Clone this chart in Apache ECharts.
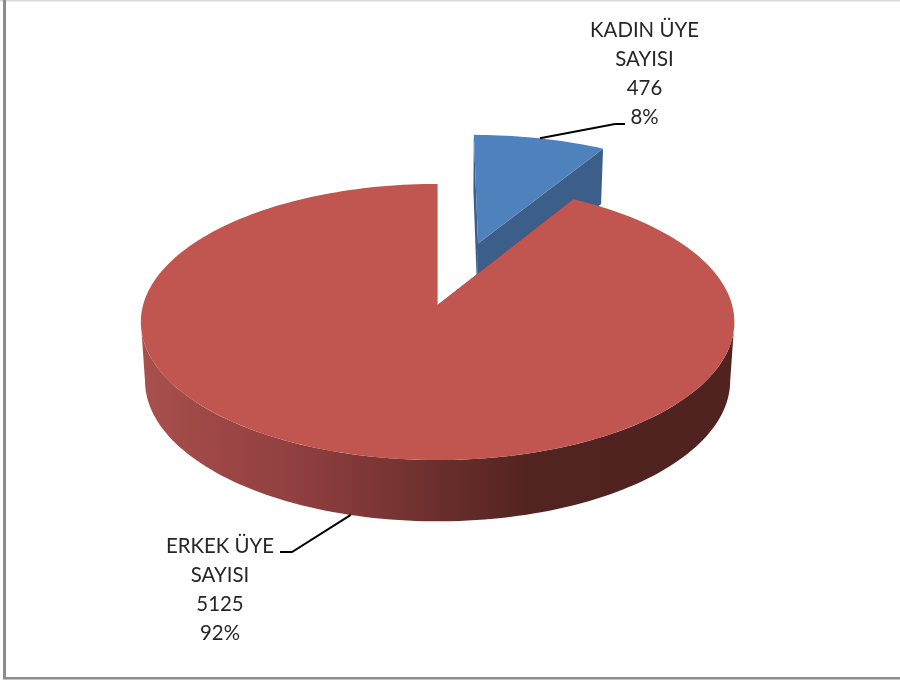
<!DOCTYPE html>
<html><head><meta charset="utf-8">
<style>html,body{margin:0;padding:0;background:#fff}#c{width:900px;height:681px}</style>
<script src="https://cdn.jsdelivr.net/npm/echarts@6/dist/echarts.min.js"></script>
</head><body><div id="c"></div>
<script>
const categories = ['KADIN ÜYE SAYISI', 'ERKEK ÜYE SAYISI'];
const labelLines = [['KADIN ÜYE', 'SAYISI'], ['ERKEK ÜYE', 'SAYISI']];
const values = [476, 5125];
const explode = [0.5, 0];

const total = values.reduce((a, b) => a + b, 0);
const P = {cx: 437.6, topY: 305, botY: 363.6, c: 294.5, b: 0.123, aT: 136, aB: 140.5, dT: 1, dB: 1.014};
const topPt = (u, v) => { const d = P.dT - P.b * v; return [P.cx + P.c * u / d, P.topY + P.aT * v / d]; };
const botPt = (u, v) => { const d = P.dB - P.b * v; return [P.cx + P.c * u / d, P.botY + P.aB * v / d]; };
const labelStyle = [
  {x: 644.5, y: 16, elbow: [[615, 124], [625, 124]]},
  {x: 220, y: 532, elbow: [[292, 552], [280, 552]]}
];
const topFill = ['#4F81BD', '#C1554F'];
const sideFill = ['#3C5F8A', {type: 'linear', x: 0, y: 0, x2: 1, y2: 0, colorStops: [
  {offset: 0, color: '#A8504C'}, {offset: 0.26, color: '#913F40'}, {offset: 0.44, color: '#753331'},
  {offset: 0.52, color: '#672D2B'}, {offset: 0.66, color: '#522320'}, {offset: 1, color: '#502320'}]}];
const FRONT_A = 97.1, FRONT_B = 262.9, RAD = Math.PI / 180;

function renderItem(params, api) {
  const i = params.dataIndex;
  const val = api.value(0);
  let sum = 0;
  for (let k = 0; k < i; k++) sum += values[k];
  const a0 = sum / total * 360, a1 = (sum + val) / total * 360;
  const mid = (a0 + a1) / 2;
  const ex = explode[i];
  // a slight lean of the exploded slice, as in the picture
  const u0 = ex * Math.sin((mid + (ex ? 1.6 : 0)) * RAD), v0 = -ex * Math.cos((mid + (ex ? 1.6 : 0)) * RAD);
  const at = (fn, deg, r) => fn(u0 + r * Math.sin(deg * RAD), v0 - r * Math.cos(deg * RAD));
  const arc = (fn, from, to) => {
    const n = Math.max(2, Math.ceil(Math.abs(to - from) / 1.5)), out = [];
    for (let s = 0; s <= n; s++) out.push(at(fn, from + (to - from) * s / n, 1));
    return out;
  };
  const kids = [];
  const poly = (points, fill, z2) => kids.push({type: 'polygon', z2, shape: {points}, style: {fill}, silent: true});
  const solidSide = typeof sideFill[i] === 'string' ? sideFill[i] : '#6a2f2d';
  [a0, a1].forEach(a => poly([at(topPt, 0, 0), at(topPt, a, 1), at(botPt, a, 1), at(botPt, 0, 0)], solidSide, 1));
  const fa = Math.max(a0, FRONT_A), fb = Math.min(a1, FRONT_B);
  if (fb > fa) poly(arc(topPt, fa, fb).concat(arc(botPt, fb, fa)), sideFill[i], 2);
  poly([at(topPt, 0, 0)].concat(arc(topPt, a0, a1)), topFill[i], 3);

  const ls = labelStyle[i];
  const anchor = mid > FRONT_A && mid < FRONT_B ? at(botPt, mid, 1) : at(topPt, mid, 1);
  kids.push({type: 'polyline', z2: 4, silent: true, shape: {points: [anchor].concat(ls.elbow)},
    style: {stroke: '#000', lineWidth: 2, fill: null}});
  kids.push({type: 'text', z2: 5, silent: true, style: {
    x: ls.x, y: ls.y,
    text: labelLines[i].concat([String(val), Math.round(val / total * 100) + '%']).join('\n'),
    fill: '#262626', font: '20.4px Lato, sans-serif', lineHeight: 29,
    align: 'center', verticalAlign: 'top'}});
  return {type: 'group', children: kids};
}

const chart = echarts.init(document.getElementById('c'), null, {renderer: 'canvas'});
chart.setOption({
  animation: false,
  backgroundColor: '#fff',
  tooltip: {show: false},
  graphic: [
    {type: 'rect', shape: {x: 0, y: 0, width: 900, height: 1.5}, style: {fill: '#d8d8d8'}, silent: true},
    {type: 'rect', shape: {x: 3, y: 0, width: 3, height: 679}, style: {fill: '#8c8c8c'}, silent: true},
    {type: 'rect', shape: {x: 3, y: 677, width: 897, height: 2.5}, style: {fill: '#8c8c8c'}, silent: true}
  ],
  series: [{
    type: 'custom',
    coordinateSystem: 'none',
    renderItem,
    silent: true,
    encode: {value: 0},
    data: values.map((v, i) => ({name: categories[i], value: [v]}))
  }]
});
</script></body></html>
